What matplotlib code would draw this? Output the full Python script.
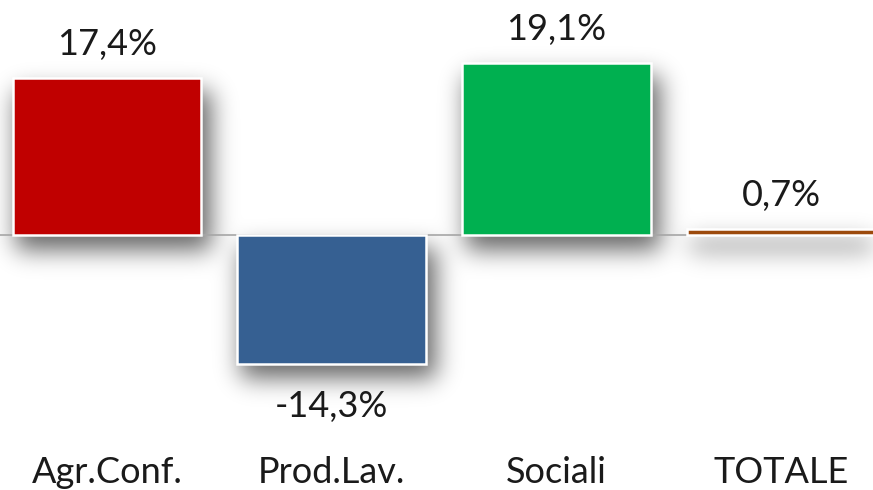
import numpy as np
import matplotlib.pyplot as plt

categories = ['Agr.Conf.', 'Prod.Lav.', 'Sociali', 'TOTALE']
values = [17.4, -14.3, 19.1, 0.7]
colors = ['#C00000', '#366092', '#00B050', '#9C4A0C']

plt.rcParams['font.family'] = ['Lato', 'DejaVu Sans']

W, H = 873, 490
xlim = (-0.476, 3.409)
ylim = (-28.3, 26.1)
width = 0.84

fig = plt.figure(figsize=(W / 100, H / 100), dpi=100)
ax = fig.add_axes([0, 0, 1, 1])
ax.set_xlim(*xlim)
ax.set_ylim(*ylim)
ax.axis('off')

x = list(range(len(categories)))

# soft shadow: rasterised bar mask, shifted and blurred
def to_px(xv, yv):
    px = (xv - xlim[0]) / (xlim[1] - xlim[0]) * W
    py = (ylim[1] - yv) / (ylim[1] - ylim[0]) * H
    return px, py

mask = np.zeros((H, W))
dx, dy = 10, 13
for xi, v in zip(x, values):
    x0, y0 = to_px(xi - width / 2, max(v, 0))
    x1, y1 = to_px(xi + width / 2, min(v, 0))
    mask[int(y0) + dy:int(y1) + dy + 2, int(x0) + 4:int(x1) + dx] = 1.0

sigma = 12.0
k = np.arange(-40, 41)
kern = np.exp(-k**2 / (2 * sigma**2))
kern /= kern.sum()
blur = np.apply_along_axis(lambda r: np.convolve(r, kern, mode='same'), 1, mask)
blur = np.apply_along_axis(lambda c: np.convolve(c, kern, mode='same'), 0, blur)

shade = np.zeros((H, W, 4))
shade[..., 3] = blur * 0.6
ax.imshow(shade, extent=(xlim[0], xlim[1], ylim[0], ylim[1]), origin='upper',
          aspect='auto', zorder=0, interpolation='bilinear')

ax.axhline(0, color='#A6A6A6', lw=1.2, zorder=1)

ax.bar(x, values, width=width, color=colors, edgecolor='white', linewidth=1.8, zorder=2)

for xi, v in zip(x, values):
    lab = ('%.1f%%' % v).replace('.', ',')
    if v >= 0:
        ax.annotate(lab, (xi, v), xytext=(0, 16.5), textcoords='offset points',
                    ha='center', va='baseline', fontsize=26, color='#1a1a1a')
    else:
        ax.annotate(lab, (xi, v), xytext=(0, -38), textcoords='offset points',
                    ha='center', va='baseline', fontsize=26, color='#1a1a1a')

for xi, c in zip(x, categories):
    ax.text(xi, -27.56, c, ha='center', va='baseline', fontsize=26, color='#1a1a1a')

fig.savefig('out.png', dpi=100, facecolor='white')
